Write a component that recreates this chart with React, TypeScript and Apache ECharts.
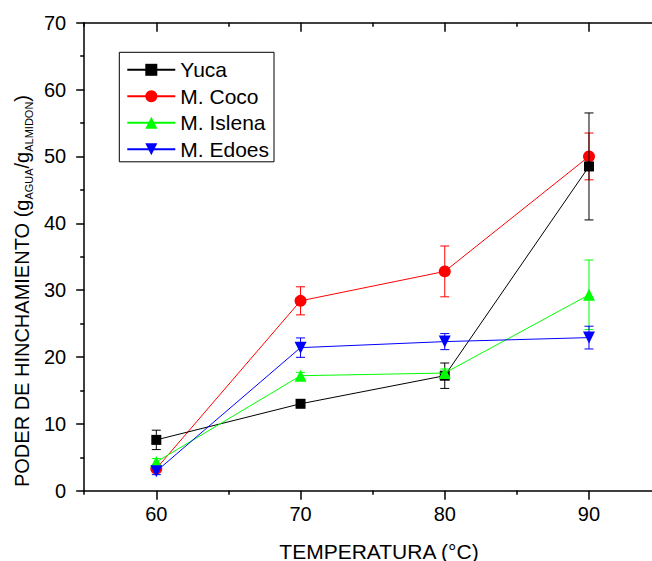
import React, { useEffect, useRef } from "react";
import * as echarts from "echarts";

const temps = [60, 70, 80, 90];
const yuca = [7.6, 13.0, 17.2, 48.5];
const yucaErr = [1.45, 0.3, 1.9, 8.0];
const coco = [3.3, 28.4, 32.8, 50.0];
const cocoErr = [0.4, 2.1, 3.8, 3.5];
const islena = [4.3, 17.2, 17.6, 29.3];
const islenaErr = [0.5, 0.5, 0.6, 5.2];
const edoes = [2.9, 21.4, 22.3, 22.9];
const edoesErr = [0.5, 1.45, 1.2, 1.7];

const names = ["Yuca", "M. Coco", "M. Islena", "M. Edoes"];
const FONT = "'Liberation Sans', Arial, sans-serif";

export default function App() {
  const ref = useRef<HTMLDivElement>(null);
  useEffect(() => {
    if (!ref.current) return;
    const chart = echarts.init(ref.current, undefined, { renderer: "svg" });

    const mkErr = (name: string, vals: number[], errs: number[], color: string, z: number) => ({
      type: "custom",
      name: name + "-err",
      xAxisIndex: 0,
      yAxisIndex: 0,
      z,
      clip: false,
      encode: { x: 0, y: [1, 2] },
      data: temps.map((t, i) => [t, vals[i] - errs[i], vals[i] + errs[i]]),
      renderItem: (params: any, api: any) => {
        const x = api.value(0);
        const lo = api.coord([x, api.value(1)]);
        const hi = api.coord([x, api.value(2)]);
        const w = 4.5;
        const st = { stroke: color, lineWidth: 1 };
        return {
          type: "group",
          children: [
            { type: "line", shape: { x1: lo[0], y1: lo[1], x2: hi[0], y2: hi[1] }, style: st },
            { type: "line", shape: { x1: lo[0] - w, y1: lo[1], x2: lo[0] + w, y2: lo[1] }, style: st },
            { type: "line", shape: { x1: hi[0] - w, y1: hi[1], x2: hi[0] + w, y2: hi[1] }, style: st },
          ],
        };
      },
    });

    const mkLine = (name: string, vals: number[], color: string, symbol: string, size: number, z: number, rotate = 0) => ({
      type: "line",
      name,
      xAxisIndex: 0,
      yAxisIndex: 0,
      z,
      data: temps.map((t, i) => [t, vals[i]]),
      symbol,
      symbolSize: size,
      symbolRotate: rotate,
      showAllSymbol: true,
      lineStyle: { color, width: 1 },
      itemStyle: { color, borderWidth: 0 },
      emphasis: { disabled: true },
    });

    const axisLine = { show: true, lineStyle: { color: "#000", width: 1.5 } };
    const tickStyle = { color: "#000", width: 1.5 };

    chart.setOption({
      animation: false,
      backgroundColor: "#fff",
      grid: { left: 84.2, right: 8.9, top: 22.7, bottom: 70.3, containLabel: false },
      legend: {
        data: names,
        orient: "vertical",
        left: 119.3,
        top: 52.3,
        itemWidth: 48,
        itemHeight: 15,
        itemGap: 5.5,
        padding: [7, 5, 2, 7],
        borderColor: "#000",
        borderWidth: 1,
        borderRadius: 0,
        backgroundColor: "#fff",
        textStyle: { fontFamily: FONT, fontSize: 21, lineHeight: 21, color: "#000" },
        selectedMode: false,
      },
      xAxis: [
        {
          type: "value",
          position: "bottom",
          min: 55,
          max: 95,
          interval: 10,
          axisLine,
          axisTick: { show: true, length: 4, lineStyle: tickStyle },
          minorTick: { show: true, splitNumber: 2, length: 9, lineStyle: tickStyle },
          axisLabel: { show: false },
          splitLine: { show: false },
        },
        {
          type: "value",
          position: "bottom",
          min: 55,
          max: 95,
          interval: 5,
          axisLine: { show: false },
          axisTick: { show: false },
          axisLabel: {
            show: true,
            margin: 13,
            fontFamily: FONT,
            fontSize: 20,
            color: "#000",
            formatter: (v: number) => (v % 10 === 0 ? String(v) : ""),
          },
          splitLine: { show: false },
        },
        {
          type: "value",
          position: "top",
          min: 55,
          max: 95,
          interval: 10,
          axisLine,
          axisTick: { show: true, inside: true, length: 4, lineStyle: tickStyle },
          minorTick: { show: true, splitNumber: 2, length: 9, lineStyle: tickStyle },
          axisLabel: { show: false },
          splitLine: { show: false },
        },
      ],
      yAxis: [
        {
          type: "value",
          position: "left",
          min: 0,
          max: 70,
          interval: 10,
          axisLine,
          axisTick: { show: true, length: 8, lineStyle: tickStyle },
          minorTick: { show: true, splitNumber: 2, length: 4, lineStyle: tickStyle },
          axisLabel: { show: true, margin: 18, fontFamily: FONT, fontSize: 20, color: "#000" },
          splitLine: { show: false },
        },
        {
          type: "value",
          position: "right",
          min: 0,
          max: 70,
          interval: 10,
          axisLine,
          axisTick: { show: true, inside: true, length: 8, lineStyle: tickStyle },
          minorTick: { show: true, splitNumber: 2, length: 4, lineStyle: tickStyle },
          axisLabel: { show: false },
          splitLine: { show: false },
        },
      ],
      graphic: [
        {
          type: "text",
          x: 379,
          y: 551,
          style: {
            text: "TEMPERATURA (°C)",
            fontFamily: FONT,
            fontSize: 21,
            fill: "#000",
            align: "center",
            verticalAlign: "middle",
          },
        },
        {
          type: "text",
          x: 22,
          y: 291,
          rotation: Math.PI / 2,
          style: {
            text: "{a|PODER DE HINCHAMIENTO (g}{s|AGUA}{a|/g}{s|ALMIDON}{a|)}",
            align: "center",
            verticalAlign: "middle",
            rich: {
              a: { fontFamily: FONT, fontSize: 20, lineHeight: 24, fill: "#000", verticalAlign: "middle" },
              s: { fontFamily: FONT, fontSize: 11, lineHeight: 11, fill: "#000", verticalAlign: "bottom" },
            },
          },
        },
      ],
      series: [
        mkErr("M. Coco", coco, cocoErr, "#ff0000", 1),
        mkLine("M. Coco", coco, "#ff0000", "circle", 12, 2),
        mkErr("Yuca", yuca, yucaErr, "#000000", 3),
        mkLine("Yuca", yuca, "#000000", "rect", 10, 4),
        mkErr("M. Islena", islena, islenaErr, "#00ff00", 5),
        mkLine("M. Islena", islena, "#00ff00", "triangle", 12, 6),
        mkErr("M. Edoes", edoes, edoesErr, "#0000ff", 7),
        mkLine("M. Edoes", edoes, "#0000ff", "triangle", 12, 8, 180),
      ],
    });
    return () => chart.dispose();
  }, []);
  return (
    <div
      ref={ref}
      style={{ position: "absolute", left: 0, top: 0, width: 670, height: 561 }}
    />
  );
}
